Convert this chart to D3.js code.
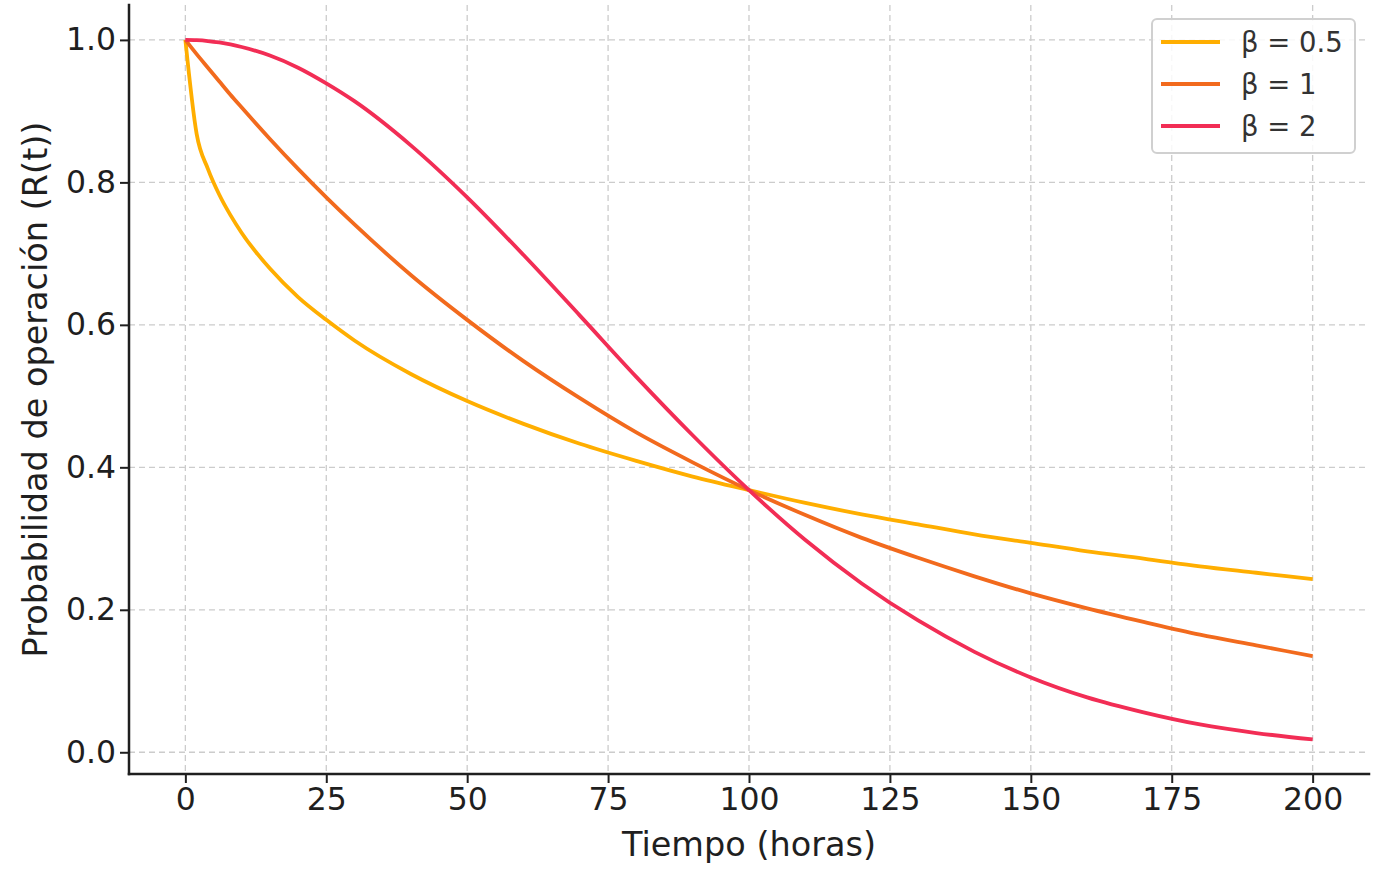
<!DOCTYPE html>
<html>
<head>
<meta charset="utf-8">
<script src="https://cdn.jsdelivr.net/npm/d3@7"></script>
<style>
  html, body { margin: 0; padding: 0; background: #ffffff; }
  svg { display: block; font-family: "DejaVu Sans", sans-serif; }
</style>
</head>
<body>
<svg id="chart" width="1388" height="880"></svg>
<script>
// ---- Data ----
const times = [0, 2, 4, 6, 8, 10, 15, 20, 25, 30, 40, 50, 60, 70, 80, 90, 100,
               110, 120, 130, 140, 150, 160, 170, 180, 190, 200];
const beta05 = [1.000, 0.868, 0.819, 0.783, 0.754, 0.729, 0.679, 0.639, 0.607, 0.578, 0.531,
                0.493, 0.461, 0.433, 0.409, 0.387, 0.368, 0.350, 0.334, 0.320, 0.306,
                0.294, 0.282, 0.272, 0.261, 0.252, 0.243];
const beta1  = [1.000, 0.980, 0.961, 0.942, 0.923, 0.905, 0.861, 0.819, 0.779, 0.741, 0.670,
                0.607, 0.549, 0.497, 0.449, 0.407, 0.368, 0.333, 0.301, 0.273, 0.247,
                0.223, 0.202, 0.183, 0.165, 0.150, 0.135];
const beta2  = [1.000, 0.9996, 0.9984, 0.9964, 0.9936, 0.990, 0.978, 0.961, 0.939, 0.914, 0.852,
                0.779, 0.698, 0.613, 0.527, 0.445, 0.368, 0.298, 0.237, 0.185, 0.141,
                0.105, 0.077, 0.056, 0.039, 0.027, 0.018];
const seriesNames = ["β = 0.5", "β = 1", "β = 2"];
const seriesColors = ["#FFAE00", "#F26A1D", "#F22D55"];
const xTicks = [0, 25, 50, 75, 100, 125, 150, 175, 200];
const yTicks = [0.0, 0.2, 0.4, 0.6, 0.8, 1.0];
const xLabel = "Tiempo (horas)";
const yLabel = "Probabilidad de operación (R(t))";

const seriesValues = [beta05, beta1, beta2];

// ---- Layout ----
const svg = d3.select("#chart");
const mLeft = 129, mRight = 1369, mTop = 5, mBottom = 774;

const x = d3.scaleLinear().domain([-10, 210]).range([mLeft, mRight]);
const y = d3.scaleLinear().domain([-0.0305, 1.049]).range([mBottom, mTop]);

const textColor = "#1f1f1f";
const tickFont = 31.5;
const labelFont = 33.5;

// Grid
const grid = svg.append("g");
grid.selectAll("line.gx").data(xTicks).join("line")
  .attr("x1", d => x(d)).attr("x2", d => x(d))
  .attr("y1", mTop).attr("y2", mBottom)
  .attr("stroke", "#cccccc").attr("stroke-width", 1.3)
  .attr("stroke-dasharray", "6,4");
grid.selectAll("line.gy").data(yTicks).join("line")
  .attr("x1", mLeft).attr("x2", mRight)
  .attr("y1", d => y(d)).attr("y2", d => y(d))
  .attr("stroke", "#cccccc").attr("stroke-width", 1.3)
  .attr("stroke-dasharray", "6,4");

// Lines
const line = d3.line()
  .x((d, i) => x(times[i]))
  .y(d => y(d))
  .curve(d3.curveMonotoneX);

seriesValues.forEach((vals, k) => {
  svg.append("path")
    .datum(vals)
    .attr("fill", "none")
    .attr("stroke", seriesColors[k])
    .attr("stroke-width", 3.8)
    .attr("stroke-linejoin", "round")
    .attr("stroke-linecap", "butt")
    .attr("d", line);
});

// Axes
const xAxis = d3.axisBottom(x).tickValues(xTicks).tickFormat(d3.format("d"))
  .tickSize(9).tickPadding(5);
const yAxis = d3.axisLeft(y).tickValues(yTicks).tickFormat(d3.format(".1f"))
  .tickSize(9).tickPadding(4);

const gx = svg.append("g").attr("transform", `translate(0,${mBottom})`).call(xAxis);
const gy = svg.append("g").attr("transform", `translate(${mLeft},0)`).call(yAxis);

[gx, gy].forEach(g => {
  g.select(".domain").remove();
  g.selectAll(".tick line").attr("stroke", textColor).attr("stroke-width", 2);
  g.selectAll(".tick text").attr("fill", textColor)
    .style("font-size", tickFont + "px")
    .style("font-family", "'DejaVu Sans', sans-serif");
});

// Spines
svg.append("line").attr("x1", mLeft).attr("x2", mRight).attr("y1", mBottom).attr("y2", mBottom)
  .attr("stroke", textColor).attr("stroke-width", 2.5).attr("stroke-linecap", "square");
svg.append("line").attr("x1", mLeft).attr("x2", mLeft).attr("y1", mTop).attr("y2", mBottom)
  .attr("stroke", textColor).attr("stroke-width", 2.5).attr("stroke-linecap", "square");

// Axis labels
svg.append("text")
  .attr("x", (mLeft + mRight) / 2).attr("y", 856)
  .attr("text-anchor", "middle")
  .attr("fill", textColor)
  .style("font-size", labelFont + "px")
  .text(xLabel);

svg.append("text")
  .attr("transform", `translate(47, ${(mTop + mBottom) / 2}) rotate(-90)`)
  .attr("text-anchor", "middle")
  .attr("fill", textColor)
  .style("font-size", labelFont + "px")
  .text(yLabel);

// Legend
const lg = svg.append("g");
lg.append("rect")
  .attr("x", 1152).attr("y", 19).attr("width", 203).attr("height", 134)
  .attr("rx", 5).attr("ry", 5)
  .attr("fill", "rgba(255,255,255,0.85)")
  .attr("stroke", "#d0d0d0").attr("stroke-width", 2);

seriesNames.forEach((name, k) => {
  const yy = 42 + k * 42;
  lg.append("line")
    .attr("x1", 1161).attr("x2", 1220).attr("y1", yy).attr("y2", yy)
    .attr("stroke", seriesColors[k]).attr("stroke-width", 3.8);
  lg.append("text")
    .attr("x", 1241).attr("y", yy + 10)
    .attr("fill", "#333333")
    .style("font-size", "27.5px")
    .text(name);
});
</script>
</body>
</html>
